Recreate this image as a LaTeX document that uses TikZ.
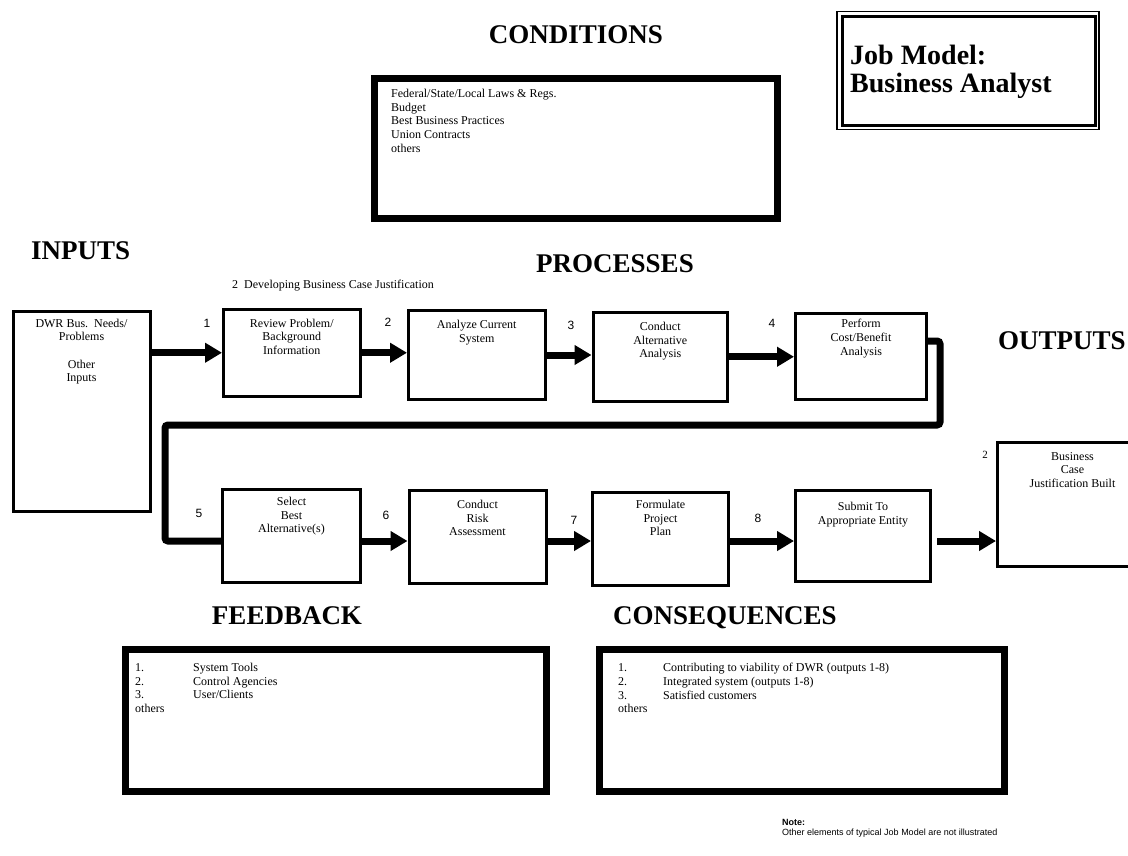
\documentclass[tikz,border=0pt]{standalone}
\usepackage{fontspec}
\setmainfont{Liberation Serif}
\newfontfamily\arialfont{Liberation Sans}
\usetikzlibrary{arrows.meta,calc}

\begin{document}
\begin{tikzpicture}[x=1pt,y=-1pt,
  procbox/.style={draw, line width=3pt, inner sep=0pt, anchor=north west},
  heavybox/.style={draw, line width=7pt, inner sep=0pt, anchor=north west},
  boxtext/.style={anchor=north, inner sep=0pt, align=center, font=\fontsize{12}{13.7}\selectfont},
  listtext/.style={anchor=north west, inner sep=0pt, align=left, font=\fontsize{12}{13.7}\selectfont},
  heading/.style={anchor=base, inner sep=0pt, font=\bfseries\fontsize{27}{30}\selectfont},
  steplabel/.style={inner sep=0pt, font=\arialfont\fontsize{12}{14}\selectfont},
  flow/.style={line width=7pt, -{Triangle[length=17pt,width=19pt]}},
  loopline/.style={line width=7pt, rounded corners=3pt}]

\useasboundingbox (0,0) rectangle (1128,856);
\clip (0,0) rectangle (1128,856);
\fill[white] (0,0) rectangle (1128,856);

% section headings
\node[heading] (hcond) at (576,44) {CONDITIONS};
\node[heading, anchor=base west] (hin) at (31,259) {INPUTS};
\node[heading] (hproc) at (615,272) {PROCESSES};
\node[heading, anchor=base west] (hout) at (998,349) {OUTPUTS};
\node[heading] (hfb) at (287,624) {FEEDBACK};
\node[heading] (hcons) at (725,624) {CONSEQUENCES};

% title block
\node[draw, line width=1.5pt, inner sep=0pt, anchor=north west,
      minimum width=262pt, minimum height=118pt] (jobouter) at (836,11) {};
\node[draw, line width=3pt, inner sep=0pt, anchor=north west,
      minimum width=253.5pt, minimum height=109pt] (jobinner) at (840.5,15.5) {};
\node[anchor=base west, inner sep=0pt, font=\bfseries\fontsize{28}{28}\selectfont] (jobtitle) at (850,65) {Job Model:};
\node[anchor=base west, inner sep=0pt, font=\bfseries\fontsize{28}{28}\selectfont] (jobname) at (850,93) {Business Analyst};

% conditions
\node[heavybox, minimum width=403pt, minimum height=140pt] (cond) at (371,75) {};
\node[listtext] (condlist) at (391,89) {Federal/State/Local Laws \& Regs.\\Budget\\Best Business Practices\\Union Contracts\\others};

% inputs
\node[procbox, minimum width=137pt, minimum height=200pt] (inputs) at (11.5,309.5) {};
\node[boxtext] (inputs-t) at ($(inputs.north)+(0,9)$) {DWR Bus.\ \ Needs/\\Problems\\[13.7pt]Other\\Inputs};

% process caption
\node[anchor=base west, inner sep=0pt, font=\fontsize{12}{14}\selectfont] (caption) at (232,288) {2\ \ Developing Business Case Justification};

% process steps, first row
\node[procbox, minimum width=136.5pt, minimum height=87.5pt] (review) at (222,307.5) {};
\node[procbox, minimum width=136.5pt, minimum height=89pt] (analyze) at (407,309) {};
\node[procbox, minimum width=134.5pt, minimum height=88.5pt] (conduct) at (591.5,311) {};
\node[procbox, minimum width=131pt, minimum height=86pt] (perform) at (794,312) {};

\node[boxtext] (review-t) at ($(review.north)+(0,11)$) {Review Problem/\\Background\\Information};
\node[boxtext] (analyze-t) at ($(analyze.north)+(0,11)$) {Analyze Current\\System};
\node[boxtext] (conduct-t) at ($(conduct.north)+(0,11)$) {Conduct\\Alternative\\Analysis};
\node[boxtext] (perform-t) at ($(perform.north)+(0,7)$) {Perform\\Cost/Benefit\\Analysis};

% process steps, second row
\node[procbox, minimum width=138pt, minimum height=93pt] (select) at (221,488) {};
\node[procbox, minimum width=137pt, minimum height=93pt] (risk) at (407.5,489) {};
\node[procbox, minimum width=136pt, minimum height=93pt] (formulate) at (591,491) {};
\node[procbox, minimum width=135pt, minimum height=91pt] (submit) at (794,489) {};

\node[boxtext] (select-t) at ($(select.north)+(0,9)$) {Select\\Best\\Alternative(s)};
\node[boxtext] (risk-t) at ($(risk.north)+(0,11)$) {Conduct\\Risk\\Assessment};
\node[boxtext] (formulate-t) at ($(formulate.north)+(0,9)$) {Formulate\\Project\\Plan};
\node[boxtext] (submit-t) at ($(submit.north)+(0,13)$) {Submit To\\Appropriate Entity};

% output
\node[procbox, minimum width=150pt, minimum height=124pt] (buscase) at (996,441) {};
\node[boxtext] (buscase-t) at ($(buscase.north)+(0,11)$) {Business\\Case\\Justification Built};

% step numbers
\node[steplabel] (n1) at (207,323) {1};
\node[steplabel] (n2) at (388,322) {2};
\node[steplabel] (n3) at (571,325) {3};
\node[steplabel] (n4) at (772,323) {4};
\node[steplabel] (n5) at (199,513) {5};
\node[steplabel] (n6) at (386,515) {6};
\node[steplabel] (n7) at (574,520) {7};
\node[steplabel] (n8) at (758,518) {8};
\node[inner sep=0pt, font=\fontsize{11}{12}\selectfont] (nout) at (985,455) {2};

% flow arrows
\coordinate (row2) at (0,541);
\draw[flow] (inputs.east |- review.west) -- (review.west);
\draw[flow] (review.east) -- (review.east -| analyze.west);
\draw[flow] (analyze.east) -- (analyze.east -| conduct.west);
\draw[flow] (conduct.east) -- (conduct.east -| perform.west);
\draw[flow] (select.east |- row2) -- (risk.west |- row2);
\draw[flow] (risk.east |- row2) -- (formulate.west |- row2);
\draw[flow] (formulate.east |- row2) -- (submit.west |- row2);
\draw[flow] ([xshift=5pt]submit.east |- row2) -- (buscase.west |- row2);

% return line from the first row to the second
\coordinate (loopTop) at (0,341);
\coordinate (loopNE) at (940,425);
\coordinate (loopSW) at (165,425);
\draw[loopline] (perform.east |- loopTop) -| (loopNE) -- (loopSW) |- (select.west |- row2);

% feedback and consequences
\node[heavybox, minimum width=421pt, minimum height=142pt] (feedback) at (122,646) {};
\node[listtext] (fblist) at (135,663) {\makebox[58pt][l]{1.}System Tools\\\makebox[58pt][l]{2.}Control Agencies\\\makebox[58pt][l]{3.}User/Clients\\others};

\node[heavybox, minimum width=405pt, minimum height=142pt] (consq) at (596,646) {};
\node[listtext] (cslist) at (618,663) {\makebox[45pt][l]{1.}Contributing to viability of DWR (outputs 1-8)\\\makebox[45pt][l]{2.}Integrated system (outputs 1-8)\\\makebox[45pt][l]{3.}Satisfied customers\\others};

% footnote
\node[anchor=base west, inner sep=0pt, font=\arialfont\bfseries\fontsize{9}{10}\selectfont] (notehead) at (782,825) {Note:};
\node[anchor=base west, inner sep=0pt, font=\arialfont\fontsize{9}{10}\selectfont] (notebody) at (782,835) {Other elements of typical Job Model are not illustrated};
\end{tikzpicture}
\end{document}
